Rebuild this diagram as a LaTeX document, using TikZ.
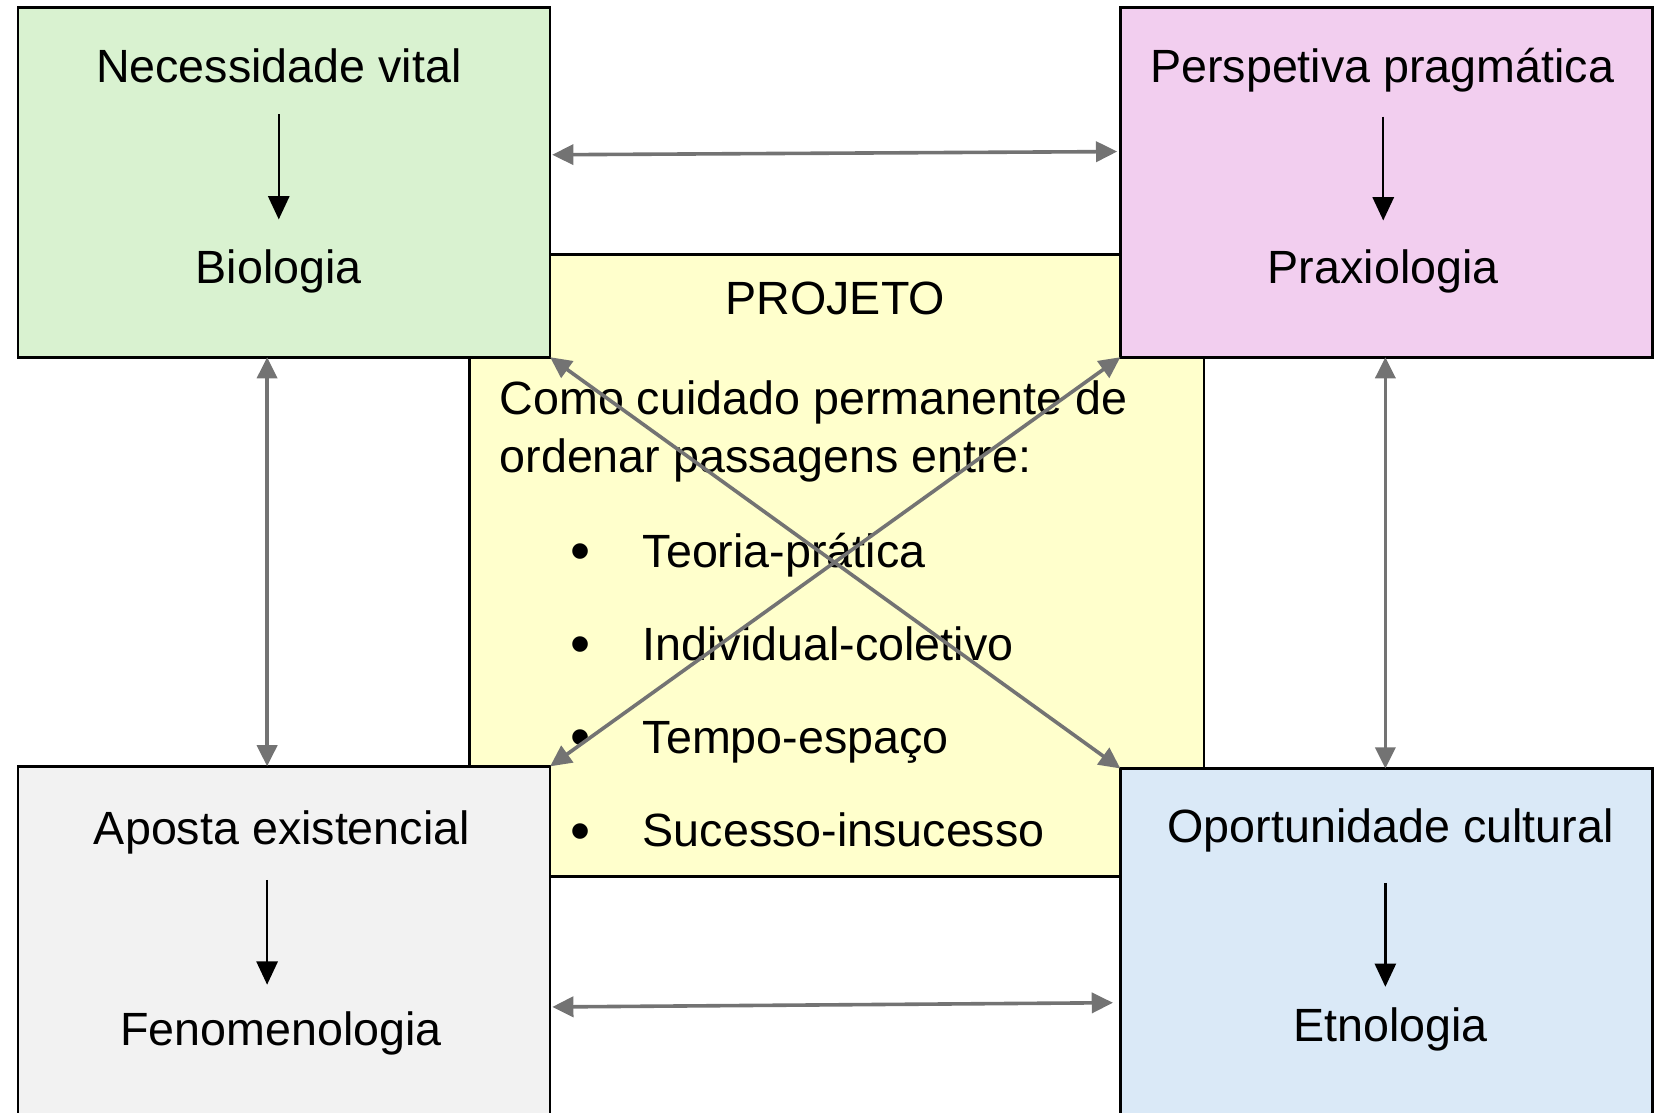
\documentclass[tikz,border=0pt]{standalone}
\usepackage{fontspec}
\setmainfont{Liberation Sans}
\usetikzlibrary{arrows.meta}
\definecolor{cgreen}{HTML}{D9F2D0}
\definecolor{cpink}{HTML}{F2CEEF}
\definecolor{cyellow}{HTML}{FFFFCC}
\definecolor{cgray}{HTML}{F2F2F2}
\definecolor{cblue}{HTML}{DAE9F7}
\definecolor{arrowgray}{HTML}{737373}
\begin{document}
\begin{tikzpicture}[x=0.5pt,y=-0.5pt,
  box/.style={draw=black, line width=1.3pt, inner sep=0pt, outer sep=0pt},
  txt/.style={anchor=base, inner sep=0pt, font=\fontsize{22}{26}\selectfont},
  ltxt/.style={txt, anchor=base west},
  bul/.style={anchor=base, inner sep=0pt, font=\fontsize{27}{30}\selectfont},
  barrow/.style={draw=black, line width=1.1pt, -{Triangle[length=11pt,width=10pt]}},
  garrow/.style={draw=arrowgray, line width=1.7pt, {Triangle[length=10pt,width=9.5pt]}-{Triangle[length=10pt,width=9.5pt]}}]
\useasboundingbox (0,0) rectangle (1568,1050);
\clip (0,0) rectangle (1568,1050);
% boxes
\node[box, fill=cyellow, minimum width=346.5pt, minimum height=293.5pt] (proj) at (789.5,533.5) {};
\node[box, fill=cgreen, minimum width=251pt, minimum height=165pt] (green) at (268,172) {};
\node[box, fill=cpink, minimum width=251pt, minimum height=165pt] (pink) at (1308,172) {};
\node[box, fill=cgray, minimum width=251pt, minimum height=168.5pt] (gray) at (268,891.5) {};
\node[box, fill=cblue, minimum width=251pt, minimum height=167.5pt] (blue) at (1308,892.5) {};
% texts
\node[txt] (nv) at (263,78) {Necessidade vital};
\node[txt] (bio) at (263,267) {Biologia};
\node[txt] (pp) at (1304,78) {Perspetiva pragmática};
\node[txt] (prax) at (1305,267) {Praxiologia};
\node[txt] (ae) at (266,797) {Aposta existencial};
\node[txt] (fen) at (265,986) {Fenomenologia};
\node[txt] (oc) at (1312,795) {Oportunidade cultural};
\node[txt] (etn) at (1312,983) {Etnologia};
\node[txt] (pt) at (788,297) {PROJETO};
\node[ltxt] (l1) at (471,391) {Como cuidado permanente de};
\node[ltxt] (l2) at (471,446) {ordenar passagens entre:};
\node[bul] (b1) at (548,538) {•};
\node[bul] (b2) at (548,626) {•};
\node[bul] (b3) at (548,714) {•};
\node[bul] (b4) at (548,802) {•};
\node[ltxt] (t1) at (606,535) {Teoria-prática};
\node[ltxt] (t2) at (606,623) {Individual-coletivo};
\node[ltxt] (t3) at (606,711) {Tempo-espaço};
\node[ltxt] (t4) at (606,799) {Sucesso-insucesso};
% black arrows
\coordinate (gA) at (263,108); \coordinate (gB) at (263,207);
\coordinate (pA) at (1305,110); \coordinate (pB) at (1305,208);
\coordinate (yA) at (252,830); \coordinate (yB) at (252,929);
\coordinate (bA) at (1307,833); \coordinate (bB) at (1307,931);
\draw[barrow] (gA) -- (gB);
\draw[barrow] (pA) -- (pB);
\draw[barrow] (yA) -- (yB);
\draw[barrow] (bA) -- (bB);
% gray arrows
\coordinate (hTL) at (521,146); \coordinate (hTR) at (1054,143);
\coordinate (hBL) at (521,950); \coordinate (hBR) at (1050,946);
\coordinate (vL) at (252,0); \coordinate (vR) at (1307,0);
\draw[garrow] (hTL) -- (hTR);
\draw[garrow] (hBL) -- (hBR);
\draw[garrow] (green.south -| vL) -- (gray.north -| vL);
\draw[garrow] (pink.south -| vR) -- (blue.north -| vR);
\draw[garrow] (green.south east) -- (blue.north west);
\draw[garrow] (pink.south west) -- (gray.north east);
\end{tikzpicture}
\end{document}
